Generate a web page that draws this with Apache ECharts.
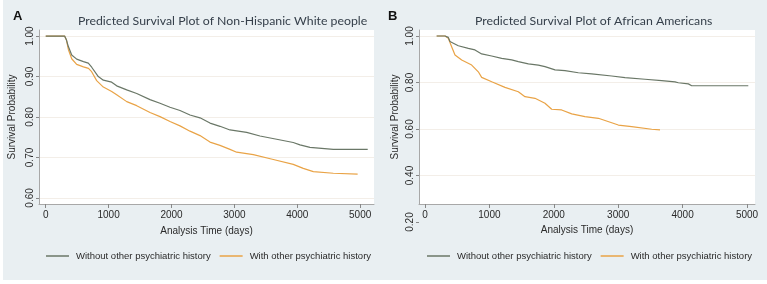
<!DOCTYPE html>
<html>
<head>
<meta charset="utf-8">
<script src="https://cdn.jsdelivr.net/npm/echarts@6/dist/echarts.min.js"></script>
<style>
  html, body { margin: 0; padding: 0; background: #fff; }
  #bg { position: absolute; left: 3px; top: 0; width: 764px; height: 280px; background: #e9eff2; }
  #chart { position: absolute; left: 0; top: 0; width: 767px; height: 284px; }
</style>
</head>
<body>
<div id="bg"></div>
<div id="chart"></div>
<script>
// tick labels
const xTicks = [0, 1000, 2000, 3000, 4000, 5000];
const yTicksA = [0.6, 0.7, 0.8, 0.9, 1.0];
const yTicksB = [0.2, 0.4, 0.6, 0.8, 1.0];
const yGridB = [0.4, 0.6, 0.8, 1.0];

const seriesNames = ['Without other psychiatric history', 'With other psychiatric history'];
const titles = ['Predicted Survival Plot of Non-Hispanic White people', 'Predicted Survival Plot of African Americans'];

// [days, survival]
const withoutA = [[0,1],[300,1],[330,0.99],[360,0.974],[413,0.953],[492,0.943],[600,0.937],[677,0.933],[731,0.923],
  [836,0.9],[916,0.891],[1049,0.886],[1128,0.877],[1288,0.867],[1447,0.858],[1658,0.843],[1817,0.834],[1976,0.824],
  [2135,0.816],[2294,0.805],[2453,0.798],[2612,0.785],[2771,0.777],[2930,0.768],[3195,0.762],[3407,0.753],
  [3672,0.745],[3936,0.737],[4043,0.731],[4202,0.725],[4573,0.72],[5120,0.72]];
const withA = [[0,1],[300,1],[330,0.99],[360,0.967],[413,0.944],[492,0.93],[600,0.924],[680,0.92],[730,0.912],
  [810,0.89],[916,0.874],[1049,0.863],[1128,0.855],[1288,0.838],[1447,0.828],[1658,0.811],[1817,0.801],[1976,0.789],
  [2135,0.778],[2294,0.765],[2453,0.754],[2612,0.738],[2771,0.73],[2930,0.72],[3036,0.713],[3301,0.707],
  [3619,0.695],[3936,0.683],[4095,0.673],[4255,0.665],[4573,0.661],[4960,0.659]];
const withoutB = [[181,1],[311,1],[362,0.994],[388,0.976],[440,0.969],[517,0.958],[673,0.947],[776,0.94],[880,0.923],
  [1035,0.914],[1191,0.904],[1346,0.897],[1449,0.89],[1605,0.88],[1760,0.875],[1863,0.868],[2019,0.854],[2174,0.851],
  [2381,0.842],[2588,0.837],[2899,0.828],[3106,0.821],[3416,0.814],[3675,0.808],[3882,0.803],[3934,0.799],
  [4089,0.794],[4141,0.786],[5020,0.786]];
const withB = [[181,1],[311,1],[362,0.99],[414,0.954],[466,0.918],[570,0.897],[725,0.875],[828,0.846],[880,0.822],
  [1036,0.803],[1242,0.779],[1449,0.76],[1553,0.739],[1708,0.732],[1863,0.711],[1967,0.685],[2122,0.682],
  [2278,0.665],[2484,0.653],[2692,0.646],[2899,0.627],[3002,0.617],[3209,0.61],[3520,0.599],[3649,0.596]];

const colors = ['#6a7767', '#e9a346'];
const axisGray = '#a8a8a8';
const txt = '#2a2a2a';
const font = "'Liberation Sans', Arial, sans-serif";

const panels = [
  { left: 39, top: 30, width: 335, height: 174, ext: 0, x: [-107, 5220], y: [0.585, 1.015], bgMin: 0.585,
    yTicks: yTicksA, yGrid: yTicksA, data: [withoutA, withA], title: titles[0], titleLeft: 73,
    letter: 'A', letterLeft: 8, nameGapY: 22, nameGapX: 22, legendLeft: 46 },
  { left: 419, top: 30, width: 336, height: 174, ext: 18, x: [-93, 5124], y: [0.2, 1.0258], bgMin: 0.2774,
    yTicks: yTicksB, yGrid: yGridB, data: [withoutB, withB], title: titles[1], titleLeft: 470,
    letter: 'B', letterLeft: 383, nameGapY: 19, nameGapX: 19, legendLeft: 427 }
];

const grid = [], xAxis = [], yAxis = [], series = [], title = [], legend = [];

panels.forEach((p, i) => {
  const bg = i * 2, main = i * 2 + 1;
  grid.push({ left: p.left, top: p.top, width: p.width, height: p.height, show: true,
    backgroundColor: '#ffffff', borderWidth: 0, outerBoundsMode: 'none' });
  grid.push({ left: p.left, top: p.top, width: p.width, height: p.height + p.ext, outerBoundsMode: 'none' });

  // frame axes: lines + horizontal grid lines
  xAxis.push({ gridIndex: bg, type: 'value', min: p.x[0], max: p.x[1],
    axisLine: { show: true, onZero: false, lineStyle: { color: axisGray, width: 1 } },
    axisTick: { show: false }, axisLabel: { show: false }, splitLine: { show: false } });
  yAxis.push({ gridIndex: bg, type: 'value', min: p.bgMin, max: p.y[1],
    name: 'Survival Probability', nameLocation: 'middle', nameRotate: 90, nameGap: p.nameGapY,
    nameTextStyle: { color: txt, fontSize: 10, fontFamily: font },
    axisLine: { show: true, onZero: false, lineStyle: { color: axisGray, width: 1 } },
    axisTick: { show: false, customValues: p.yGrid }, axisLabel: { show: false },
    splitLine: { show: true, lineStyle: { color: '#f3eee8', width: 1 } } });

  // data axes: ticks + labels
  xAxis.push({ gridIndex: main, type: 'value', min: p.x[0], max: p.x[1], offset: -p.ext,
    name: 'Analysis Time (days)', nameLocation: 'middle', nameGap: p.nameGapX,
    nameTextStyle: { color: txt, fontSize: 10, fontFamily: font },
    axisLine: { show: false, onZero: false },
    axisTick: { show: true, length: 4, customValues: xTicks, lineStyle: { color: '#888' } },
    axisLabel: { customValues: xTicks, margin: 6, color: txt, fontSize: 10, fontFamily: font,
      formatter: v => String(v) },
    splitLine: { show: false } });
  yAxis.push({ gridIndex: main, type: 'value', min: p.y[0], max: p.y[1],
    axisLine: { show: false, onZero: false },
    axisTick: { show: true, length: 3, customValues: p.yTicks, lineStyle: { color: '#888' } },
    axisLabel: { customValues: p.yTicks, rotate: 90, margin: 4, color: txt, fontSize: 10, fontFamily: font,
      formatter: v => v.toFixed(2) },
    splitLine: { show: false } });

  p.data.forEach((d, k) => {
    series.push({ name: seriesNames[k], type: 'line', xAxisIndex: main, yAxisIndex: main, data: d,
      showSymbol: false, symbol: 'none', clip: false, color: colors[k],
      lineStyle: { color: colors[k], width: 1.2 }, z: 3 - k });
  });

  title.push({ text: p.title, left: p.titleLeft, top: 10,
    textStyle: { fontFamily: 'Lato, sans-serif', fontSize: 12.3, fontWeight: 'normal', color: '#36404b' } });
  title.push({ text: p.letter, left: p.letterLeft, top: 5,
    textStyle: { fontFamily: font, fontSize: 13, fontWeight: 'bold', color: '#111' } });

  legend.push({ data: seriesNames, left: p.legendLeft, top: 251, padding: 0, icon: 'rect', itemWidth: 23,
    itemHeight: 1.5, itemGap: 9, selectedMode: false,
    textStyle: { color: txt, fontSize: 9.5, fontFamily: font, padding: [0, 0, 0, 2] } });
});

const chart = echarts.init(document.getElementById('chart'), null, { renderer: 'canvas' });
chart.setOption({ animation: false, backgroundColor: 'transparent', title, legend, grid, xAxis, yAxis, series });
</script>
</body>
</html>
